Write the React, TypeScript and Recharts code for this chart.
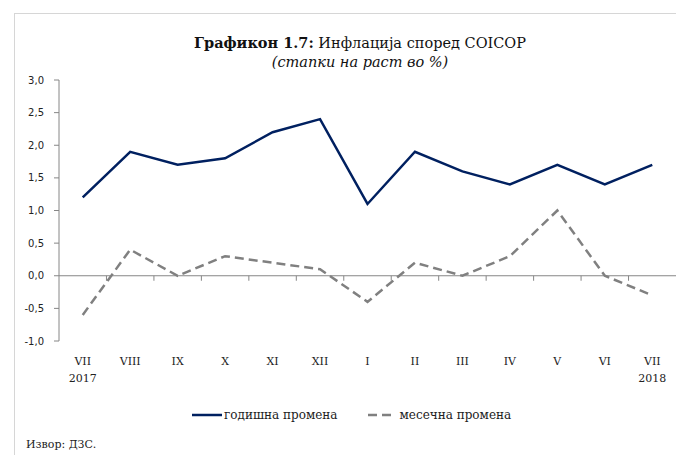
import React from "react";
import { LineChart, Line, XAxis, YAxis, ReferenceLine } from "recharts";

// ─── Data ──────────────────────────────────────────────────────────

const months = ["VII", "VIII", "IX", "X", "XI", "XII", "I", "II", "III", "IV", "V", "VI", "VII"];
const years = ["2017", "", "", "", "", "", "", "", "", "", "", "", "2018"];
const annual = [1.2, 1.9, 1.7, 1.8, 2.2, 2.4, 1.1, 1.9, 1.6, 1.4, 1.7, 1.4, 1.7];
const monthly = [-0.6, 0.4, 0.0, 0.3, 0.2, 0.1, -0.4, 0.2, 0.0, 0.3, 1.0, 0.0, -0.3];
const yTicks = [-1, -0.5, 0, 0.5, 1, 1.5, 2, 2.5, 3];

const data = months.map((m, i) => ({
  key: `${m}-${i}`,
  month: m,
  year: years[i],
  annual: annual[i],
  monthly: monthly[i],
}));

const NAVY = "#002060";
const GRAY = "#808080";
const AXIS = "#868686";
const SERIF = "'DejaVu Serif', serif";
const SANS = "'DejaVu Sans', sans-serif";

// ─── Custom ticks ──────────────────────────────────────────────────

function MonthTick(props: any) {
  const { x, y, index } = props;
  const d = data[index];
  return (
    <g>
      <text x={x} y={y + 24} textAnchor="middle" fontFamily={SERIF} fontSize={11} fill="#222">
        {d.month}
      </text>
      {d.year && (
        <text x={x} y={y + 41} textAnchor="middle" fontFamily={SERIF} fontSize={11} fill="#222">
          {d.year}
        </text>
      )}
    </g>
  );
}

// zero line with tick marks between categories
function ZeroLine(props: any) {
  const { x1, y1, x2, y2 } = props;
  const band = (x2 - x1) / data.length;
  return (
    <g>
      <line x1={x1} y1={y1} x2={x2} y2={y2} stroke={AXIS} strokeWidth={1} />
      {data.slice(1).map((_, i) => (
        <line
          key={i}
          x1={x1 + band * (i + 1)}
          x2={x1 + band * (i + 1)}
          y1={y1}
          y2={y1 + 5}
          stroke={AXIS}
          strokeWidth={1}
        />
      ))}
    </g>
  );
}

// ─── Component ─────────────────────────────────────────────────────

export default function App() {
  return (
    <div style={{ position: "relative", width: 676, height: 455, background: "#fff", overflow: "hidden" }}>
      <style>{`body{margin:0}`}</style>

      {/* frame */}
      <div style={{ position: "absolute", left: 14, top: 13, right: 0, bottom: 0, borderLeft: "1.5px solid #d6d6d6", borderTop: "1.5px solid #d6d6d6" }} />

      {/* title */}
      <div style={{ position: "absolute", left: 0, width: 720, top: 33, textAlign: "center", fontFamily: SERIF, fontSize: 14.5, color: "#111", lineHeight: "19px" }}>
        <b>Графикон 1.7:</b> Инфлација според COICOP
        <br />
        <i>(стапки на раст во %)</i>
      </div>

      <LineChart
        width={676}
        height={455}
        data={data}
        margin={{ top: 80, right: 0, left: 0, bottom: 84 }}
        style={{ position: "absolute", left: 0, top: 0 }}
      >
        <XAxis
          dataKey="key"
          scale="band"
          axisLine={false}
          tickLine={false}
          tickSize={0}
          tickMargin={0}
          height={30}
          interval={0}
          tick={<MonthTick />}
        />
        <YAxis
          domain={[-1, 3]}
          ticks={yTicks}
          width={59}
          interval={0}
          stroke={AXIS}
          tickSize={5}
          tickMargin={10}
          tick={{ fill: "#222", fontSize: 10, fontFamily: SANS }}
          tickFormatter={(v: number) => v.toFixed(1).replace(".", ",")}
        />
        <ReferenceLine y={0} shape={<ZeroLine />} />
        <Line
          type="linear"
          dataKey="annual"
          name="годишна промена"
          stroke={NAVY}
          strokeWidth={2.5}
          dot={false}
          isAnimationActive={false}
        />
        <Line
          type="linear"
          dataKey="monthly"
          name="месечна промена"
          stroke={GRAY}
          strokeWidth={2.5}
          strokeDasharray="9 5"
          dot={false}
          isAnimationActive={false}
        />
      </LineChart>

      {/* legend */}
      <div style={{ position: "absolute", top: 408, left: 192, display: "flex", alignItems: "center", fontFamily: SERIF, fontSize: 12, color: "#222" }}>
        <svg width={32} height={6}>
          <line x1={0} y1={3} x2={30} y2={3} stroke={NAVY} strokeWidth={2.5} />
        </svg>
        <span style={{ marginRight: 30 }}>годишна промена</span>
        <svg width={32} height={6}>
          <line x1={0} y1={3} x2={27} y2={3} stroke={GRAY} strokeWidth={2.5} strokeDasharray="9 5" />
        </svg>
        <span>месечна промена</span>
      </div>

      {/* source */}
      <div style={{ position: "absolute", left: 26, top: 438, fontFamily: SERIF, fontSize: 11, color: "#222" }}>
        Извор: ДЗС.
      </div>
    </div>
  );
}
